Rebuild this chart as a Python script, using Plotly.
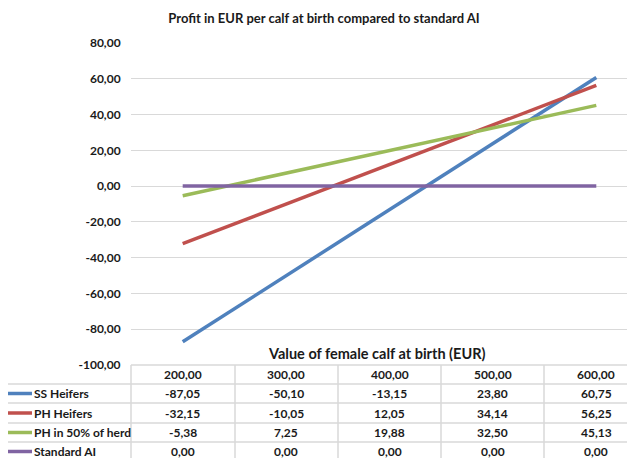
import plotly.graph_objects as go

calf_values = [200, 300, 400, 500, 600]
calf_labels = ["200,00", "300,00", "400,00", "500,00", "600,00"]

series_names = ["SS Heifers", "PH Heifers", "PH in 50% of herd", "Standard AI"]
ss_heifers = [-87.05, -50.10, -13.15, 23.80, 60.75]
ph_heifers = [-32.15, -10.05, 12.05, 34.14, 56.25]
ph_half_herd = [-5.38, 7.25, 19.88, 32.50, 45.13]
standard_ai = [0.00, 0.00, 0.00, 0.00, 0.00]
series_values = [ss_heifers, ph_heifers, ph_half_herd, standard_ai]
colors = ["#4F81BD", "#C0504D", "#9BBB59", "#8064A2"]

y_ticks = [80, 60, 40, 20, 0, -20, -40, -60, -80, -100]


def fmt(v):
    # excel style: comma decimal, plain hyphen minus
    return ("%.2f" % v).replace(".", ",")


W, H = 635, 458
OFF = 8  # page body margin of the exported html
FONT = "Lato"
TXT = "#1a1a1a"


def px(x):
    return (x - OFF) / W


def py(y):
    return 1 - (y - OFF) / H


fig = go.Figure()
for name, vals, col in zip(series_names, series_values, colors):
    fig.add_trace(go.Scatter(x=calf_values, y=vals, name=name, mode="lines",
                             line=dict(color=col, width=3.5), showlegend=False))

fig.update_layout(
    width=W, height=H,
    margin=dict(l=0, r=0, t=0, b=0, autoexpand=False),
    paper_bgcolor="white", plot_bgcolor="white",
    font=dict(family=FONT, size=12, color=TXT),
    title=dict(text="<b>Profit in EUR per calf at birth compared to standard AI</b>",
               x=px(324), xanchor="center", y=py(18), yanchor="middle",
               xref="paper", yref="paper",
               font=dict(family=FONT, size=13, color=TXT)),
    xaxis=dict(domain=[px(131), 1], range=[150, 150 + (W + OFF - 131) / 1.034],
               showticklabels=False, showgrid=False, zeroline=False, showline=False,
               automargin=False),
    yaxis=dict(domain=[py(365), py(43)], range=[-100, 80],
               tickvals=y_ticks, ticktext=[fmt(v) for v in y_ticks],
               tickfont=dict(family=FONT, size=12, color=TXT, weight="bold"),
               ticks="outside", ticklen=7, tickcolor="rgba(0,0,0,0)",
               showgrid=True, gridcolor="#D9D9D9", gridwidth=1.3,
               zeroline=False, showline=False, automargin=False),
)

# x axis title sitting above the data table
fig.add_annotation(text="<b>Value of female calf at birth (EUR)</b>", x=px(376), y=py(353),
                   xref="paper", yref="paper", showarrow=False,
                   xanchor="center", yanchor="middle",
                   font=dict(family=FONT, size=14.5, color=TXT))

# data table grid
grid = dict(color="#D9D9D9", width=1.5)
row_lines = [384, 403, 423, 442, 461]
fig.add_shape(type="line", xref="paper", yref="paper", x0=px(131), x1=1,
              y0=py(365), y1=py(365), line=grid)
for yl in row_lines:
    fig.add_shape(type="line", xref="paper", yref="paper", x0=px(5), x1=1,
                  y0=py(yl), y1=py(yl), line=grid)
fig.add_shape(type="line", xref="paper", yref="paper", x0=px(5), x1=px(5),
              y0=py(384), y1=py(461), line=grid)
for xl in [131, 235, 338, 441, 544]:
    fig.add_shape(type="line", xref="paper", yref="paper", x0=px(xl), x1=px(xl),
                  y0=py(365), y1=py(461), line=grid)

# header row
for xv, lab in zip(calf_values, calf_labels):
    fig.add_annotation(text="<b>%s</b>" % lab, x=xv, y=py(374.5), xref="x", yref="paper",
                       xanchor="center", yanchor="middle", showarrow=False,
                       font=dict(family=FONT, size=12, color=TXT))

row_centers = [393.5, 413, 432.5, 451.5]
for name, vals, col, yc in zip(series_names, series_values, colors, row_centers):
    fig.add_shape(type="line", xref="paper", yref="paper", x0=px(7), x1=px(32),
                  y0=py(yc), y1=py(yc), line=dict(color=col, width=3.5))
    fig.add_annotation(text="<b>%s</b>" % name, x=px(32), y=py(yc), xref="paper", yref="paper",
                       xanchor="left", yanchor="middle", showarrow=False,
                       font=dict(family=FONT, size=12, color=TXT))
    for xv, v in zip(calf_values, vals):
        fig.add_annotation(text="<b>%s</b>" % fmt(v), x=xv, y=py(yc), xref="x", yref="paper",
                           xanchor="center", yanchor="middle", showarrow=False,
                           font=dict(family=FONT, size=12, color=TXT))

fig.write_html("out.html")
